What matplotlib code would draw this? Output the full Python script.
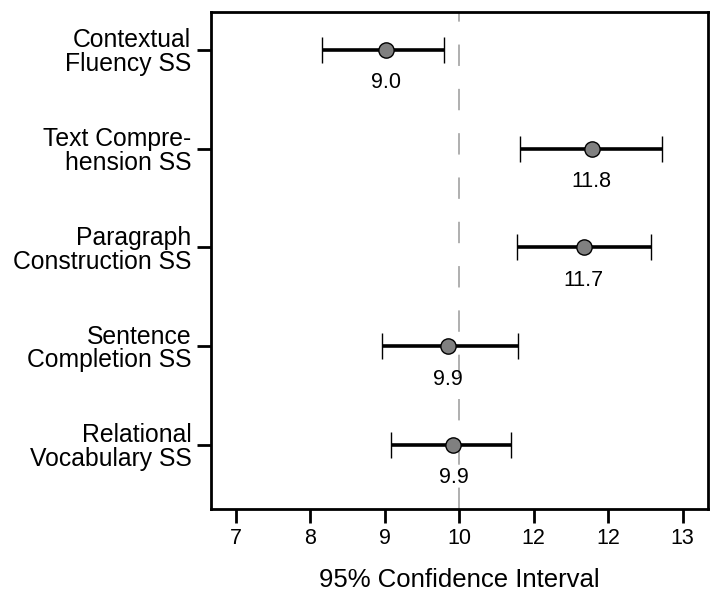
import matplotlib
matplotlib.use("Agg")
import matplotlib.pyplot as plt

plt.rcParams['font.family'] = ['Liberation Sans', 'DejaVu Sans']

categories = ["Contextual\nFluency SS", "Text Compre-\nhension SS", "Paragraph\nConstruction SS",
              "Sentence\nCompletion SS", "Relational\nVocabulary SS"]
means = [9.02, 11.78, 11.67, 9.85, 9.92]
ci_low = [8.16, 10.82, 10.78, 8.96, 9.08]
ci_high = [9.80, 12.72, 12.57, 10.79, 10.69]
value_labels = ["9.0", "11.8", "11.7", "9.9", "9.9"]
xticks = [7, 8, 9, 10, 11, 12, 13]
xtick_labels = ["7", "8", "9", "10", "12", "12", "13"]
ref_value = 10

fig = plt.figure(figsize=(7.16, 5.91), dpi=100)
ax = fig.add_axes([0.2943, 0.1387, 0.9888 - 0.2943, 0.9802 - 0.1387])

ypos = list(range(len(categories)))
ax.axvline(ref_value, color='#9a9a9a', lw=1.1, dashes=(14, 15), zorder=1)

for y, m, lo, hi, lab in zip(ypos, means, ci_low, ci_high, value_labels):
    ax.errorbar(m, y, xerr=[[m - lo], [hi - m]], fmt='o', color='black', ecolor='black',
                elinewidth=2.6, capsize=9.6, capthick=2.8, markersize=11,
                markerfacecolor='#808080', markeredgecolor='black', markeredgewidth=1.0, zorder=3)
    ax.annotate(lab, (m, y), xytext=(0, -33), textcoords='offset pixels',
                ha='center', va='center', fontsize=15.5, zorder=4)

ax.set_xlim(6.66, 13.34)
ax.set_ylim(4.651, -0.388)
ax.set_yticks(ypos)
ax.set_yticklabels(categories, fontsize=17.8, linespacing=0.98)
ax.set_xticks(xticks)
ax.set_xticklabels(xtick_labels, fontsize=15.5)
ax.set_xlabel("95% Confidence Interval", fontsize=18.5, labelpad=13)

for s in ax.spines.values():
    s.set_linewidth(2.0)
ax.tick_params(axis='both', length=10, width=2.0, direction='out')
ax.tick_params(axis='y', pad=4)
ax.tick_params(axis='x', pad=4)

fig.savefig("out.png", dpi=100)
